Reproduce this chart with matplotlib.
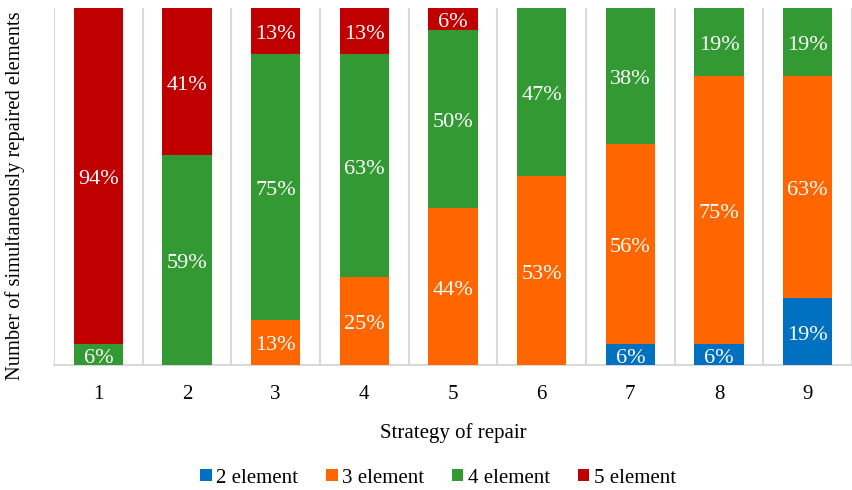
import matplotlib
matplotlib.use("Agg")
import matplotlib.pyplot as plt
import numpy as np
from matplotlib.patches import Patch

plt.rcParams['font.family'] = ['Liberation Serif', 'DejaVu Serif']

strategies = ['1', '2', '3', '4', '5', '6', '7', '8', '9']
series_names = ['2 element', '3 element', '4 element', '5 element']
colors = ['#0070C0', '#FF6600', '#339933', '#C00000']

# Share of each repair group per strategy (%)
elem2 = [0, 0, 0, 0, 0, 0, 6, 6, 19]
elem3 = [0, 0, 13, 25, 44, 53, 56, 75, 63]
elem4 = [6, 59, 75, 63, 50, 47, 38, 19, 19]
elem5 = [94, 41, 13, 13, 6, 0, 0, 0, 0]

data = np.array([elem2, elem3, elem4, elem5], dtype=float)
totals = data.sum(axis=0)
shares = data / totals * 100  # 100% stacked

fig = plt.figure(figsize=(8.52, 4.90), dpi=100)
ax = fig.add_axes([54 / 852, 1 - 365.5 / 490, 798 / 852, (365.5 - 8.5) / 490])

x = np.arange(len(strategies))
bottom = np.zeros(len(strategies))
for i, (name, col) in enumerate(zip(series_names, colors)):
    bars = ax.bar(x, shares[i], bottom=bottom, width=0.555, color=col,
                  label=name, zorder=3)
    for j, b in enumerate(bars):
        if data[i, j] > 0:
            ax.annotate(f"{data[i, j]:.0f}%",
                        (b.get_x() + b.get_width() / 2, bottom[j] + shares[i, j] / 2),
                        xytext=(0, -2.5), textcoords='offset points',
                        ha='center', va='center', color='white', fontsize=16,
                        zorder=4)
    bottom += shares[i]

ax.set_xlim(-0.5, len(strategies) - 0.5)
ax.set_ylim(0, 100)
for b in np.arange(-0.5, len(strategies) + 0.5, 1.0):
    ax.axvline(b, color='#D9D9D9', lw=1.5, zorder=1)

for s in ['top', 'right', 'left']:
    ax.spines[s].set_visible(False)
ax.spines['bottom'].set_color('#D9D9D9')
ax.spines['bottom'].set_linewidth(1.5)
ax.set_yticks([])
ax.set_xticks(x)
ax.set_xticklabels(strategies, fontsize=15)
ax.tick_params(axis='x', length=0, pad=14)

ax.set_xlabel('Strategy of repair', fontsize=15, labelpad=14)
fig.text(15 / 852, 1 - 196 / 490, 'Number of simultaneously repaired elements',
         rotation=90, ha='center', va='center', fontsize=14.8)

handles = [Patch(facecolor=c, label=n) for n, c in zip(series_names, colors)]
fig.legend(handles=handles, loc='center', bbox_to_anchor=(438 / 852, 1 - 478 / 490),
           ncol=4, frameon=False, fontsize=15, handlelength=0.55, handleheight=0.55,
           handletextpad=0.2, columnspacing=1.35)

fig.savefig('out.png', dpi=100)
